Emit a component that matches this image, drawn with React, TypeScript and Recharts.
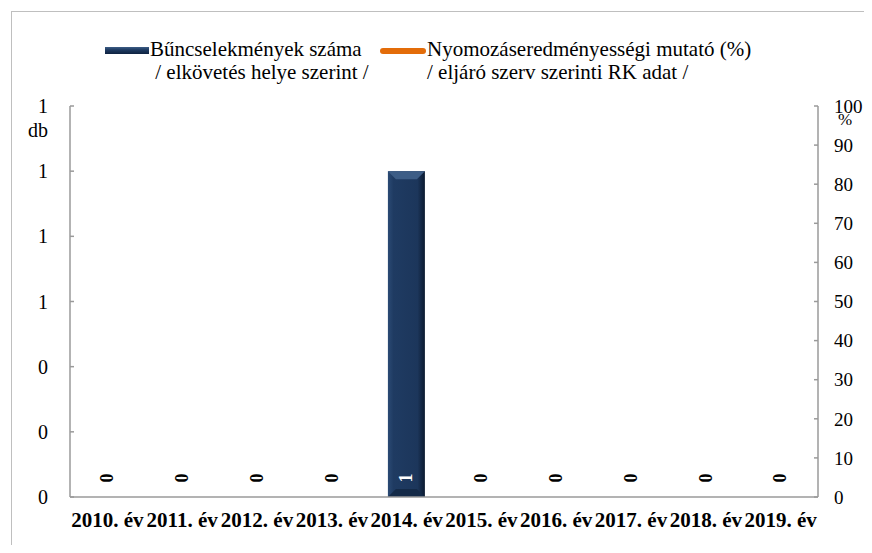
import React from "react";
import { Bar, ComposedChart, LabelList, Line, XAxis, YAxis } from "recharts";

const years = ["2010. év", "2011. év", "2012. év", "2013. év", "2014. év", "2015. év", "2016. év", "2017. év", "2018. év", "2019. év"];
const crimeCounts = [0, 0, 0, 0, 1, 0, 0, 0, 0, 0];
const clearanceRates: (number | null)[] = [null, null, null, null, null, null, null, null, null, null];
const leftTicks = [0, 0.2, 0.4, 0.6, 0.8, 1, 1.2];
const rightTicks = [0, 10, 20, 30, 40, 50, 60, 70, 80, 90, 100];
const crimeName = ["Bűncselekmények száma", "/ elkövetés helye szerint /"];
const rateName = ["Nyomozáseredményességi mutató (%)", "/ eljáró szerv szerinti RK adat /"];

const data = years.map((year, i) => ({
    year,
    crimes: crimeCounts[i],
    rate: clearanceRates[i],
}));

const FONT = "Liberation Serif";
const AXIS_GRAY = "#9a9a9a";

const BevelBar = (props: any) => {
    const { x, y, width, height } = props;
    if (!height || height <= 0) return null;
    const b = Math.min(8, width / 4, height / 4);
    return (
        <g>
            <rect x={x} y={y} width={width} height={height} fill="url(#navyGrad)" />
            <polygon points={`${x},${y} ${x + width},${y} ${x + width - b},${y + b} ${x + b},${y + b}`} fill="#3d5d86" />
            <polygon points={`${x},${y + height} ${x + width},${y + height} ${x + width - b},${y + height - b} ${x + b},${y + height - b}`} fill="#142a48" />
        </g>
    );
};

const BarValue = (props: any) => {
    const { x, y, width, height, value } = props;
    const cx = x + width / 2;
    const cy = y + height - 19;
    return (
        <text
            x={cx}
            y={cy}
            transform={`rotate(-90 ${cx} ${cy})`}
            textAnchor="middle"
            dominantBaseline="central"
            fontFamily={FONT}
            fontWeight="bold"
            fontSize={18}
            fill={value > 0 ? "#ffffff" : "#000000"}
        >
            {value}
        </text>
    );
};

const App = () => {
    return (
        <div
            style={{
                position: "relative",
                marginLeft: 3,
                marginTop: 3,
                width: 861,
                height: 534,
                borderLeft: "1px solid #bfbfbf",
                borderTop: "1px solid #bfbfbf",
                boxSizing: "border-box",
            }}
        >
            <ComposedChart
                width={860}
                height={530}
                data={data}
                margin={{ top: 94, right: 0, left: 0, bottom: 15 }}
                barCategoryGap="25%"
            >
                <defs>
                    <linearGradient id="navyGrad" x1="0" y1="0" x2="1" y2="0">
                        <stop offset="0%" stopColor="#2b4a74" />
                        <stop offset="15%" stopColor="#1f3b62" />
                        <stop offset="80%" stopColor="#1c365b" />
                        <stop offset="100%" stopColor="#0b1a30" />
                    </linearGradient>
                </defs>
                <XAxis
                    dataKey="year"
                    height={30}
                    tickLine={false}
                    tickSize={0}
                    tickMargin={15}
                    axisLine={{ stroke: AXIS_GRAY, strokeWidth: 1.5 }}
                    tick={{ fontSize: 21, fontWeight: "bold", fill: "#000", fontFamily: FONT }}
                    interval={0}
                />
                <YAxis
                    yAxisId="left"
                    width={58}
                    domain={[0, 1.2]}
                    ticks={leftTicks}
                    tickFormatter={(v: number) => String(Math.round(v))}
                    tickSize={-4}
                    tickMargin={26}
                    axisLine={{ stroke: AXIS_GRAY, strokeWidth: 1.5 }}
                    tickLine={{ stroke: AXIS_GRAY, strokeWidth: 1.5 }}
                    tick={{ fontSize: 20, fill: "#000", fontFamily: FONT }}
                    label={{
                        content: (p: any) => (
                            <text x={p.viewBox.x + 36} y={p.viewBox.y + 24} textAnchor="end" dominantBaseline="central" fontSize={20} fontFamily={FONT} fill="#000">
                                db
                            </text>
                        ),
                    }}
                />
                <YAxis
                    yAxisId="right"
                    orientation="right"
                    width={54}
                    domain={[0, 100]}
                    allowDataOverflow
                    ticks={rightTicks}
                    tickSize={-4}
                    tickMargin={20}
                    axisLine={{ stroke: AXIS_GRAY, strokeWidth: 1.5 }}
                    tickLine={{ stroke: AXIS_GRAY, strokeWidth: 1.5 }}
                    tick={{ fontSize: 19, fill: "#000", fontFamily: FONT }}
                    label={{
                        content: (p: any) => (
                            <text x={p.viewBox.x + 20} y={p.viewBox.y + 13} textAnchor="start" dominantBaseline="central" fontSize={17} fontFamily={FONT} fill="#000">
                                %
                            </text>
                        ),
                    }}
                />
                <Bar yAxisId="left" dataKey="crimes" shape={BevelBar} isAnimationActive={false}>
                    <LabelList dataKey="crimes" content={BarValue} />
                </Bar>
                <Line yAxisId="right" dataKey="rate" stroke="#e36c09" strokeWidth={4} dot={false} isAnimationActive={false} />
            </ComposedChart>
            <div style={{ position: "absolute", left: 93, top: 26, display: "flex", fontFamily: FONT, fontSize: 21, lineHeight: "23px", color: "#000" }}>
                <div style={{ width: 44, height: 7, marginTop: 9, background: "linear-gradient(to bottom, #3d5d86, #1f3b62 40%, #0e2240)" }} />
                <div style={{ marginLeft: 1, whiteSpace: "pre" }}>
                    {crimeName[0]}
                    <br />
                    {" " + crimeName[1]}
                </div>
            </div>
            <div style={{ position: "absolute", left: 368, top: 26, display: "flex", fontFamily: FONT, fontSize: 21, lineHeight: "23px", color: "#000" }}>
                <div style={{ width: 46, height: 6, marginTop: 10, borderRadius: 3, background: "#e36c09" }} />
                <div style={{ marginLeft: 1, whiteSpace: "pre" }}>
                    {rateName[0]}
                    <br />
                    {rateName[1]}
                </div>
            </div>
        </div>
    );
};

export default App;
